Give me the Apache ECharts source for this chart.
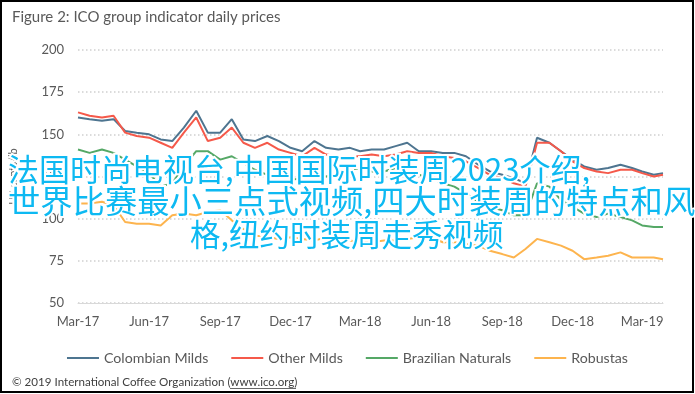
<!DOCTYPE html>
<html>
<head>
<meta charset="utf-8">
<script src="https://cdn.jsdelivr.net/npm/echarts@6/dist/echarts.min.js"></script>
<style>
html,body{margin:0;padding:0;background:#fff;}
#chart{width:695px;height:394px;}
</style>
</head>
<body>
<div id="chart"></div>
<script>
// ---------- data ----------
const chartTitle = 'Figure 2: ICO group indicator daily prices';
const yAxisName = 'US cents/lb';
const seriesNames = ['Colombian Milds', 'Other Milds', 'Brazilian Naturals', 'Robustas'];
const seriesColors = ['#4E7590', '#F5594A', '#55A866', '#FDB44E'];

const xTickDates = ['2017-03-01','2017-06-01','2017-09-01','2017-12-01','2018-03-01','2018-06-01','2018-09-01','2018-12-01','2019-03-01'];
const xTickLabels = ['Mar-17','Jun-17','Sep-17','Dec-17','Mar-18','Jun-18','Sep-18','Dec-18','Mar-19'];
const xStart = '2017-03-01';
const xEnd = '2019-03-28';
const yMin = 50, yMax = 200, yStep = 25;

// observation dates (1st and 16th of each month, plus last day shown)
const dates = [
 '2017-03-01','2017-03-16','2017-04-01','2017-04-16','2017-05-01','2017-05-16','2017-06-01','2017-06-16',
 '2017-07-01','2017-07-16','2017-08-01','2017-08-16','2017-09-01','2017-09-16','2017-10-01','2017-10-16',
 '2017-11-01','2017-11-16','2017-12-01','2017-12-16','2018-01-01','2018-01-16','2018-02-01','2018-02-16',
 '2018-03-01','2018-03-16','2018-04-01','2018-04-16','2018-05-01','2018-05-16','2018-06-01','2018-06-16',
 '2018-07-01','2018-07-16','2018-08-01','2018-08-16','2018-09-01','2018-09-16','2018-10-01','2018-10-16',
 '2018-11-01','2018-11-16','2018-12-01','2018-12-16','2019-01-01','2019-01-16','2019-02-01','2019-02-16',
 '2019-03-01','2019-03-16','2019-03-28'
];

const colombianMilds = [
 160,159,158,159,152,151,150,147,146,154,164,151,151,159,147,146,
 149,146,142,140,146,142,141,142,140,141,141,143,145,140,140,139,
 139,137,132,128,126,124,121,148,145,140,135,131,129,130,132,130,
 128,126,127
];
const otherMilds = [
 163,161,160,161,151,149,148,145,142,151,160,146,148,154,145,142,
 145,141,139,137,142,138,137,137,137,138,137,138,140,139,139,137,
 136,134,130,126,124,121,119,145,145,140,134,130,128,127,129,129,
 127,125,126
];
const brazilianNaturals = [
 141,139,141,139,135,131,127,119,121,131,140,140,135,137,133,129,
 126,124,123,124,126,125,127,129,130,128,128,130,129,126,124,121,
 119,115,110,107,105,102,102,121,119,111,107,103,101,103,101,99,
 96,95,95
];
const robustas = [
 109,109,110,108,98,97,97,96,102,103,102,104,105,99,94,90,
 89,88,89,88,87,89,88,87,86,86,87,87,88,89,89,86,
 86,85,84,81,79,77,82,88,86,84,81,76,77,78,80,77,
 77,77,76
];

const overlayLines = [
 '法国时尚电视台,中国国际时装周2023介绍,',
 '世界比赛最小三点式视频,四大时装周的特点和风',
 '格,纽约时装周走秀视频'
];
const creditText = '© 2019 International Coffee Organization (';
const creditLink = 'www.ico.org';
const creditEnd = ')';

// ---------- chart ----------
const font = 'Lato, "Open Sans", sans-serif';
const labelColor = '#595959';
const valueSets = [colombianMilds, otherMilds, brazilianNaturals, robustas];
const DAY = 86400000;
const t0 = Date.UTC(+xStart.slice(0,4), +xStart.slice(5,7) - 1, +xStart.slice(8,10));
const dayOf = s => Math.round((Date.UTC(+s.slice(0,4), +s.slice(5,7) - 1, +s.slice(8,10)) - t0) / DAY);
const tickDays = xTickDates.map(dayOf);

const chart = echarts.init(document.getElementById('chart'), null, {renderer: 'canvas'});

const series = seriesNames.map((name, k) => ({
  name: name,
  type: 'line',
  showSymbol: false,
  symbol: 'none',
  color: seriesColors[k],
  lineStyle: {width: 2, color: seriesColors[k]},
  data: dates.map((d, i) => [dayOf(d), valueSets[k][i]]),
  z: 2 + k
}));

const overlayX = [8, 8, 190];
const overlayY = [169, 201, 234];
const overlaySize = [31, 32.3, 30.5];

const option = {
  animation: false,
  backgroundColor: '#fff',
  title: {
    text: chartTitle,
    left: 7, top: 5,
    textStyle: {fontFamily: font, fontSize: 15, fontWeight: 'normal', color: labelColor}
  },
  grid: {left: 78, right: 32, top: 50, bottom: 91, containLabel: false},
  xAxis: {
    type: 'value',
    min: 0,
    max: dayOf(xEnd),
    axisLine: {show: true, onZero: false, lineStyle: {color: '#D9D9D9', width: 1}},
    axisTick: {show: false},
    splitLine: {show: false},
    axisLabel: {
      customValues: tickDays,
      margin: 12,
      fontFamily: font, fontSize: 13, color: labelColor,
      formatter: function (v) {
        const idx = tickDays.indexOf(Math.round(v));
        return idx >= 0 ? xTickLabels[idx] : '';
      }
    }
  },
  yAxis: {
    type: 'value',
    min: yMin, max: yMax, interval: yStep,
    name: yAxisName,
    nameLocation: 'middle',
    nameGap: 59,
    nameRotate: 90,
    nameTextStyle: {fontFamily: font, fontSize: 11, color: labelColor},
    axisLine: {show: false},
    axisTick: {show: false},
    axisLabel: {margin: 14, fontFamily: font, fontSize: 13, color: labelColor},
    splitLine: {show: true, lineStyle: {color: '#CFCFCF', width: 1.5, type: [1.5, 2.5]}}
  },
  legend: {
    data: seriesNames,
    top: 346,
    left: 'center',
    icon: 'rect',
    itemWidth: 32,
    itemHeight: 2,
    itemGap: 23,
    textStyle: {fontFamily: font, fontSize: 14.2, color: labelColor}
  },
  graphic: [
    {
      type: 'rect', z: 200, silent: true,
      shape: {x: 1, y: 1, width: 692, height: 391},
      style: {fill: 'none', stroke: '#000', lineWidth: 2}
    },
    {
      type: 'text', z: 150, silent: true,
      style: {
        text: creditText + creditLink + creditEnd,
        x: 12, y: 382, verticalAlign: 'middle',
        font: '11.6px Lato, sans-serif',
        fill: '#404040'
      }
    },
    {
      type: 'line', z: 150, silent: true,
      shape: {x1: 230, y1: 388.5, x2: 296, y2: 388.5},
      style: {stroke: '#404040', lineWidth: 0.8}
    }
  ].concat(overlayLines.map((t, i) => ({
      type: 'text', z: 300, silent: true,
      style: {
        text: t,
        x: overlayX[i],
        y: overlayY[i],
        verticalAlign: 'middle',
        font: overlaySize[i] + 'px "Noto Sans CJK SC"',
        fill: '#0DB9F2',
        stroke: '#ffffff',
        lineWidth: 4,
        strokeFirst: true
      }
  }))),
  series: series
};

chart.setOption(option);
</script>
</body>
</html>
